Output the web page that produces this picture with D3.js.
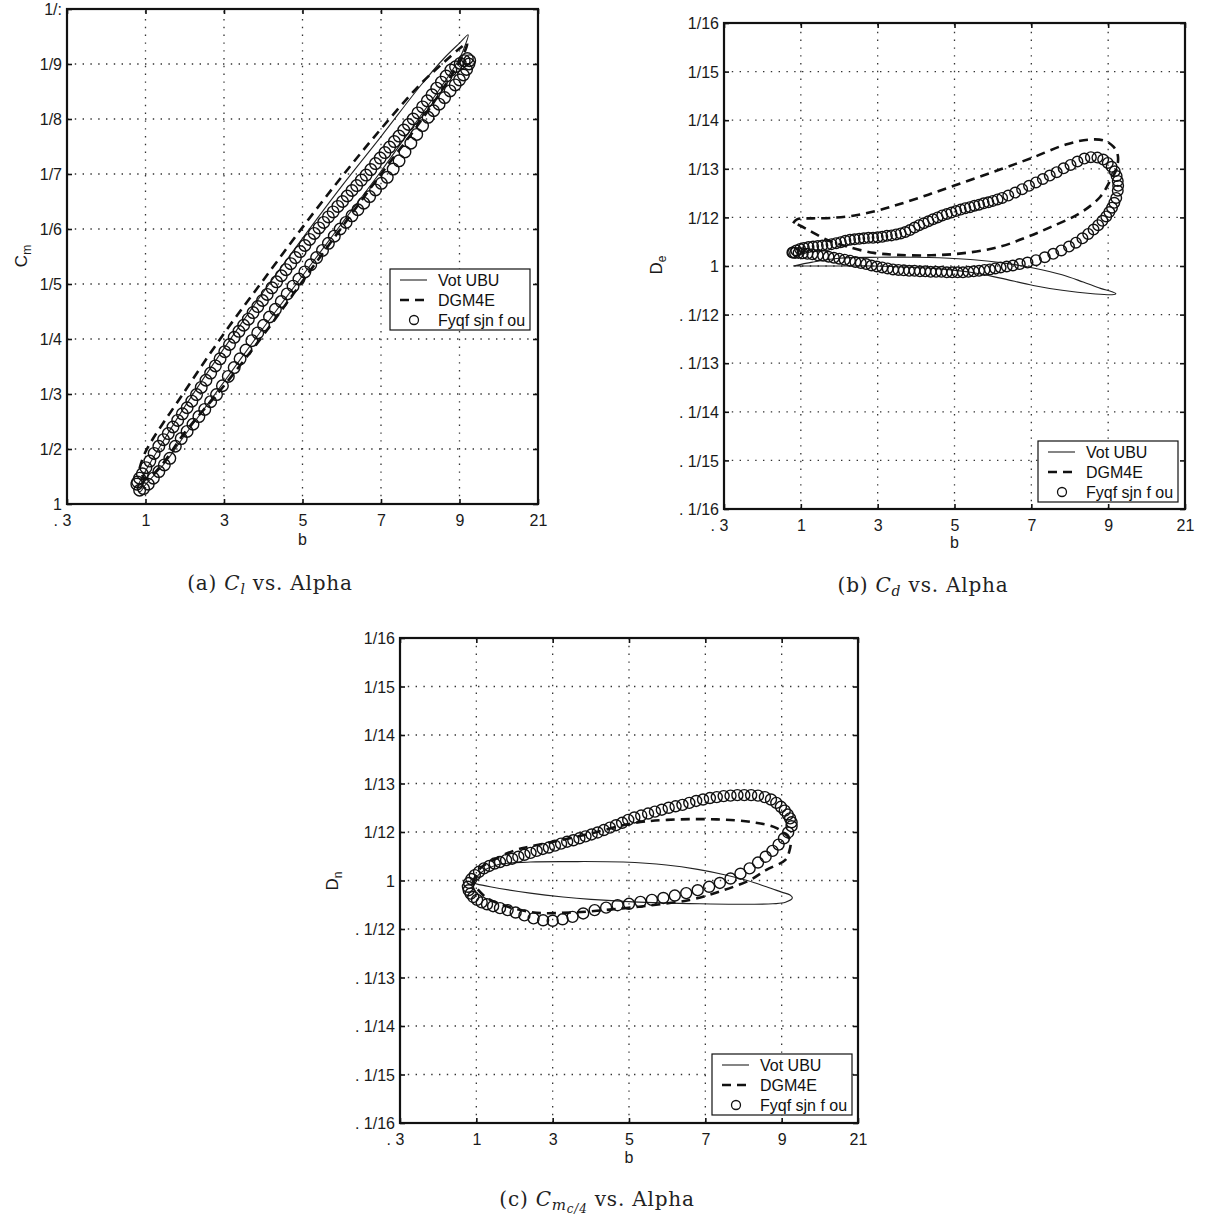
<!DOCTYPE html>
<html><head><meta charset="utf-8">
<script src="https://cdn.jsdelivr.net/npm/d3@7"></script>
<style>
body{margin:0;background:#fff;}
svg{display:block;}
.tick text{font-family:"Liberation Sans",Arial,sans-serif;font-size:16px;fill:#1a1a1a;}
</style></head>
<body>
<svg id="chart" width="1205" height="1216"></svg>
<script>
// ---------- tick values and labels ----------
const xTickVals = [-2, 0, 2, 4, 6, 8, 10];
const xTickLabels = [". 3", "1", "3", "5", "7", "9", "21"];
const clTickVals = [0, 0.1, 0.2, 0.3, 0.4, 0.5, 0.6, 0.7, 0.8, 0.9];
const clTickLabels = ["1", "1/2", "1/3", "1/4", "1/5", "1/6", "1/7", "1/8", "1/9", "1/:"];
const smallTickVals = [-0.05, -0.04, -0.03, -0.02, -0.01, 0, 0.01, 0.02, 0.03, 0.04, 0.05];
const smallTickLabels = [". 1/16", ". 1/15", ". 1/14", ". 1/13", ". 1/12", "1", "1/12", "1/13", "1/14", "1/15", "1/16"];
const legendLabels = ["Vot UBU", "DGM4E", "Fyqf sjn f ou"];

// ---------- (a) Cl vs alpha ----------
const clSolid = [[-0.22,0.03],[0,0.06],[0.5,0.12],[1,0.177],[2,0.283],[3,0.385],[4,0.483],[5,0.578],[6,0.668],[7,0.76],[7.6,0.81],[8.0,0.838],[8.22,0.853],
  [8.15,0.835],[8,0.81],[7.5,0.755],[7,0.705],[6,0.605],[5,0.51],[4,0.415],[3,0.32],[2,0.222],[1,0.125],[0.5,0.075],[0,0.035],[-0.15,0.022],[-0.22,0.03]];
const clDashed = [[-0.15,0.065],[0,0.095],[1,0.205],[2,0.31],[3,0.407],[4,0.503],[5,0.595],[6,0.682],[7,0.763],[7.6,0.803],[8.0,0.828],[8.19,0.838],
  [8.12,0.82],[7.8,0.78],[7,0.695],[6,0.6],[5,0.503],[4,0.405],[3,0.307],[2,0.215],[1,0.13],[0.4,0.07],[0,0.045],[-0.15,0.065]];
const clExpUpper = [[8.20,0.810],[8.12,0.806],[8.02,0.801],[7.90,0.795],[7.78,0.789],[7.66,0.778],[7.54,0.767],[7.42,0.756],[7.30,0.744],[7.18,0.733],
  [7.06,0.722],[6.94,0.711],[6.82,0.700],[6.70,0.690],[6.58,0.680],[6.46,0.669],[6.34,0.659],[6.22,0.649],[6.10,0.639],[5.98,0.629],
  [5.86,0.619],[5.74,0.608],[5.62,0.598],[5.50,0.589],[5.38,0.579],[5.26,0.570],[5.14,0.560],[5.02,0.550],[4.90,0.541],[4.78,0.531],
  [4.66,0.522],[4.54,0.512],[4.42,0.502],[4.30,0.492],[4.18,0.481],[4.06,0.470],[3.94,0.459],[3.82,0.448],[3.70,0.437],[3.58,0.426],
  [3.46,0.415],[3.34,0.404],[3.22,0.393],[3.10,0.381],[2.98,0.370],[2.86,0.359],[2.74,0.348],[2.62,0.336],[2.50,0.325],[2.38,0.314],
  [2.26,0.303],[2.14,0.290],[2.02,0.277],[1.90,0.264],[1.78,0.251],[1.66,0.238],[1.54,0.225],[1.42,0.212],[1.30,0.199],[1.18,0.187],
  [1.06,0.175],[0.94,0.164],[0.82,0.152],[0.70,0.140],[0.58,0.128],[0.46,0.117],[0.34,0.105],[0.22,0.092],[0.11,0.078],[0.01,0.066],
  [-0.08,0.055],[-0.15,0.047],[-0.20,0.040],[-0.22,0.036]];
const clExpLower = [[-0.15,0.025],[-0.05,0.028],[0.07,0.036],[0.20,0.047],[0.34,0.059],[0.48,0.071],[0.62,0.083],[0.76,0.105],[0.91,0.119],[1.06,0.132],
  [1.21,0.145],[1.36,0.159],[1.51,0.172],[1.66,0.186],[1.81,0.199],[1.96,0.215],[2.11,0.232],[2.26,0.248],[2.41,0.264],[2.56,0.280],
  [2.71,0.297],[2.86,0.311],[3.01,0.325],[3.16,0.340],[3.31,0.354],[3.46,0.368],[3.61,0.382],[3.76,0.396],[3.91,0.409],[4.06,0.422],
  [4.21,0.435],[4.36,0.448],[4.51,0.461],[4.66,0.474],[4.81,0.487],[4.96,0.500],[5.11,0.512],[5.26,0.524],[5.41,0.535],[5.56,0.547],
  [5.71,0.559],[5.86,0.571],[6.01,0.583],[6.16,0.594],[6.31,0.609],[6.46,0.624],[6.61,0.640],[6.76,0.656],[6.91,0.672],[7.06,0.688],
  [7.20,0.703],[7.34,0.715],[7.48,0.727],[7.62,0.739],[7.76,0.751],[7.89,0.762],[8.00,0.771],[8.10,0.780],[8.18,0.790],[8.24,0.800],
  [8.26,0.806]];

// ---------- (b) Cd vs alpha ----------
const cdSolid = [[-0.2,0.0],[0.3,0.0008],[1.0,0.0016],[2.0,0.0018],[3.0,0.0018],[3.6,0.0017],[4.5,0.0013],[5.3,0.0006],[6.05,-0.0004],[6.8,-0.0018],
  [7.35,-0.0033],[7.8,-0.0046],[8.1,-0.0053],[8.2,-0.0057],[8.1,-0.0059],[7.6,-0.0057],[6.8,-0.0050],[6.05,-0.0040],[5.2,-0.0025],[4.5,-0.0014],
  [3.6,-0.0006],[2.6,-0.0002],[1.88,0.0],[1.0,0.0],[0.2,0.0],[-0.2,0.0]];
const cdDashed = [[-0.2,0.0088],[-0.1,0.0096],[0.3,0.0098],[0.8,0.0099],[1.4,0.0104],[2.0,0.0114],[2.6,0.0128],[3.4,0.0149],[4.3,0.0174],[5.2,0.0199],
  [6.0,0.0222],[6.9,0.0250],[7.5,0.0260],[7.9,0.0258],[8.13,0.0246],[8.25,0.0228],[8.22,0.0200],[8.05,0.0175],[7.79,0.0142],[7.27,0.0109],
  [6.5,0.0080],[5.9,0.0060],[5.2,0.0040],[4.3,0.0027],[3.4,0.0022],[2.5,0.0023],[1.9,0.0027],[1.2,0.0040],[0.7,0.0053],[0.2,0.0074],[-0.1,0.0086],[-0.2,0.0088]];
const cdExpUpper = [[-0.22,0.0028],[-0.12,0.0032],[-0.02,0.0035],[0.08,0.0037],[0.20,0.0039],[0.32,0.0040],[0.44,0.0041],[0.56,0.0042],[0.68,0.0043],[0.80,0.0045],
  [0.92,0.0047],[1.04,0.0049],[1.16,0.0052],[1.28,0.0054],[1.40,0.0055],[1.52,0.0056],[1.64,0.0057],[1.76,0.0058],[1.88,0.0058],[2.00,0.0059],
  [2.12,0.0060],[2.24,0.0062],[2.36,0.0063],[2.48,0.0065],[2.60,0.0067],[2.72,0.0070],[2.84,0.0074],[2.96,0.0079],[3.08,0.0084],[3.20,0.0088],
  [3.32,0.0092],[3.44,0.0096],[3.56,0.0100],[3.68,0.0104],[3.80,0.0107],[3.92,0.0110],[4.04,0.0113],[4.16,0.0116],[4.28,0.0119],[4.40,0.0121],
  [4.52,0.0124],[4.64,0.0126],[4.76,0.0129],[4.88,0.0131],[5.00,0.0134],[5.12,0.0137],[5.24,0.0140],[5.40,0.0145],[5.58,0.0151],[5.76,0.0158],
  [5.94,0.0165],[6.12,0.0172],[6.30,0.0179],[6.48,0.0186],[6.66,0.0193],[6.84,0.0201],[7.02,0.0208],[7.20,0.0215],[7.38,0.0221],[7.55,0.0224],
  [7.72,0.0223],[7.87,0.0219],[7.99,0.0212],[8.09,0.0204],[8.17,0.0195],[8.22,0.0185],[8.25,0.0175],[8.26,0.0165],[8.25,0.0155]];
const cdExpLower = [[8.21,0.0140],[8.16,0.0130],[8.10,0.0120],[8.03,0.0111],[7.95,0.0102],[7.85,0.0093],[7.74,0.0084],[7.62,0.0075],[7.48,0.0066],[7.33,0.0057],
  [7.16,0.0048],[6.98,0.0040],[6.78,0.0032],[6.57,0.0025],[6.35,0.0018],[6.12,0.0012],[5.90,0.0007],[5.70,0.0004],[5.52,0.0001],[5.36,-0.0001],
  [5.20,-0.0003],[5.06,-0.0005],[4.92,-0.0007],[4.78,-0.0008],[4.64,-0.0010],[4.50,-0.0011],[4.36,-0.0012],[4.22,-0.0013],[4.08,-0.0013],[3.94,-0.0013],
  [3.80,-0.0013],[3.66,-0.0012],[3.52,-0.0012],[3.38,-0.0012],[3.24,-0.0011],[3.10,-0.0011],[2.96,-0.0010],[2.82,-0.0010],[2.68,-0.0009],[2.54,-0.0008],
  [2.40,-0.0007],[2.26,-0.0005],[2.12,-0.0003],[1.98,-0.0001],[1.84,0.0001],[1.70,0.0004],[1.56,0.0006],[1.42,0.0008],[1.28,0.0011],[1.14,0.0013],
  [1.00,0.0015],[0.86,0.0017],[0.72,0.0019],[0.58,0.0021],[0.44,0.0022],[0.30,0.0024],[0.17,0.0025],[0.05,0.0026],[-0.06,0.0027],[-0.15,0.0027],
  [-0.20,0.0028]];

// ---------- (c) Cm vs alpha ----------
const cmSolid = [[-0.08,-0.0005],[0.1,0.0015],[0.54,0.0032],[1.41,0.0038],[2.5,0.0039],[3.85,0.0038],[4.98,0.0032],[5.8,0.0023],[6.56,0.0011],[7.1,0.0],
  [7.6,-0.0013],[8.0,-0.0024],[8.22,-0.0030],[8.28,-0.0036],[8.1,-0.0045],[7.77,-0.0048],[6.8,-0.0049],[5.86,-0.0048],[4.1,-0.0044],[3.0,-0.0039],
  [2.27,-0.0034],[1.41,-0.0026],[0.36,-0.0013],[0.0,-0.0007],[-0.08,-0.0005]];
const cmDashed = [[-0.1,-0.0005],[0.1,0.0025],[0.44,0.0042],[1.0,0.0062],[1.41,0.0070],[2.2,0.0083],[3.0,0.0097],[4.1,0.0118],[5.0,0.0125],[6.3,0.0126],
  [7.25,0.0120],[7.87,0.0108],[8.22,0.0084],[8.2,0.0060],[8.09,0.0042],[7.6,0.0022],[7.17,0.0001],[6.4,-0.0022],[5.59,-0.0040],[4.5,-0.0052],
  [3.5,-0.0060],[2.5,-0.0066],[1.41,-0.0065],[0.28,-0.0036],[-0.1,-0.0005]];
const cmExpUpper = [[-0.22,-0.0013],[-0.19,-0.0005],[-0.13,0.0003],[-0.04,0.0011],[0.07,0.0018],[0.20,0.0025],[0.34,0.0030],[0.48,0.0035],[0.62,0.0038],[0.78,0.0042],
  [0.94,0.0045],[1.10,0.0049],[1.26,0.0053],[1.42,0.0057],[1.58,0.0061],[1.74,0.0065],[1.90,0.0068],[2.06,0.0072],[2.22,0.0076],[2.38,0.0080],
  [2.54,0.0083],[2.70,0.0087],[2.86,0.0091],[3.02,0.0095],[3.18,0.0099],[3.34,0.0104],[3.50,0.0109],[3.66,0.0114],[3.82,0.0119],[3.98,0.0125],
  [4.14,0.0130],[4.32,0.0134],[4.50,0.0138],[4.68,0.0142],[4.86,0.0146],[5.04,0.0150],[5.22,0.0153],[5.40,0.0156],[5.58,0.0160],[5.76,0.0164],
  [5.94,0.0167],[6.12,0.0170],[6.30,0.0172],[6.48,0.0174],[6.66,0.0175],[6.84,0.0176],[7.02,0.0176],[7.20,0.0176],[7.38,0.0175],[7.56,0.0172],
  [7.72,0.0167],[7.86,0.0160],[7.98,0.0152],[8.08,0.0144],[8.16,0.0136],[8.22,0.0128],[8.26,0.0120],[8.26,0.0112]];
const cmExpLower = [[8.17,0.0099],[8.06,0.0087],[7.92,0.0074],[7.76,0.0061],[7.58,0.0049],[7.38,0.0037],[7.16,0.0025],[6.92,0.0014],[6.66,0.0004],[6.38,-0.0005],
  [6.10,-0.0013],[5.80,-0.0020],[5.50,-0.0026],[5.20,-0.0031],[4.90,-0.0036],[4.60,-0.0040],[4.30,-0.0044],[4.00,-0.0048],[3.70,-0.0051],[3.40,-0.0056],
  [3.10,-0.0061],[2.80,-0.0068],[2.52,-0.0075],[2.26,-0.0080],[2.00,-0.0083],[1.75,-0.0082],[1.50,-0.0078],[1.26,-0.0072],[1.03,-0.0066],[0.82,-0.0061],
  [0.62,-0.0057],[0.44,-0.0053],[0.28,-0.0049],[0.14,-0.0045],[0.02,-0.0040],[-0.08,-0.0034],[-0.15,-0.0027],[-0.20,-0.0020]];

// ---------- drawing ----------
const svg = d3.select("#chart");
const SANS = '"Liberation Sans", Arial, sans-serif';
const SERIF = '"DejaVu Serif", "Liberation Serif", serif';

function drawPanel(p) {
  const x = d3.scaleLinear().domain([-2, 10]).range([p.left, p.right]);
  const y = d3.scaleLinear().domain(p.yDomain).range([p.bottom, p.top]);
  const g = svg.append("g");
  const W = p.right - p.left, H = p.bottom - p.top;

  // dotted grid
  const grid = g.append("g").attr("stroke", "#333").attr("stroke-width", 1.3)
      .attr("stroke-dasharray", "1.4,6.4").attr("fill", "none");
  grid.selectAll(".gx").data(xTickVals.slice(1, -1)).join("line")
      .attr("x1", d => x(d)).attr("x2", d => x(d)).attr("y1", p.bottom).attr("y2", p.top);
  grid.selectAll(".gy").data(p.yTicks.slice(1, -1)).join("line")
      .attr("y1", d => y(d)).attr("y2", d => y(d)).attr("x1", p.left).attr("x2", p.right);

  // axes with inward ticks
  const fmtX = (d, i) => xTickLabels[i];
  const fmtY = (d, i) => p.yLabels[i];
  const ax = g.append("g").attr("transform", `translate(0,${p.bottom})`)
      .call(d3.axisBottom(x).tickValues(xTickVals).tickFormat(fmtX).tickSizeInner(-5).tickSizeOuter(0).tickPadding(11));
  const ay = g.append("g").attr("transform", `translate(${p.left},0)`)
      .call(d3.axisLeft(y).tickValues(p.yTicks).tickFormat(fmtY).tickSizeInner(-5).tickSizeOuter(0).tickPadding(5));
  const at = g.append("g").attr("transform", `translate(0,${p.top})`)
      .call(d3.axisTop(x).tickValues(xTickVals).tickFormat("").tickSizeInner(-5).tickSizeOuter(0));
  const ar = g.append("g").attr("transform", `translate(${p.right},0)`)
      .call(d3.axisRight(y).tickValues(p.yTicks).tickFormat("").tickSizeInner(-5).tickSizeOuter(0));
  [ax, ay, at, ar].forEach(a => {
    a.select(".domain").remove();
    a.selectAll(".tick line").attr("stroke", "#111").attr("stroke-width", 1.6);
  });
  ay.selectAll(".tick text").attr("dy", "0.36em");
  ax.selectAll(".tick text").filter((d, i) => i === 0).attr("dx", -5);

  // box
  g.append("rect").attr("x", p.left).attr("y", p.top).attr("width", W).attr("height", H)
      .attr("fill", "none").attr("stroke", "#111").attr("stroke-width", 2.2);

  // data
  const line = d3.line().x(d => x(d[0])).y(d => y(d[1])).curve(d3.curveCatmullRom.alpha(0.5));
  g.append("path").datum(p.solid).attr("d", line).attr("fill", "none")
      .attr("stroke", "#222").attr("stroke-width", 1.1);
  g.append("path").datum(p.dashed).attr("d", line).attr("fill", "none")
      .attr("stroke", "#111").attr("stroke-width", 2.6).attr("stroke-dasharray", "9,6");
  const exp = p.expUpper.concat(p.expLower);
  g.append("g").selectAll("circle").data(exp).join("circle")
      .attr("cx", d => x(d[0])).attr("cy", d => y(d[1])).attr("r", p.r)
      .attr("fill", "none").attr("stroke", "#111").attr("stroke-width", 1.4);

  // axis titles
  g.append("text").attr("x", x(4)).attr("y", p.xlabY).attr("text-anchor", "middle")
      .attr("font-family", SANS).attr("font-size", 16).attr("fill", "#1a1a1a").text("b");
  const yl = g.append("text").attr("transform", `translate(${p.ylabX},${p.ylabY}) rotate(-90)`)
      .attr("text-anchor", "middle").attr("font-family", SANS).attr("font-size", 17).attr("fill", "#1a1a1a");
  yl.append("tspan").text(p.ylabMain);
  yl.append("tspan").attr("font-size", 12).attr("dy", 4).text(p.ylabSub);

  // legend
  const L = p.legend;
  const lg = g.append("g").attr("transform", `translate(${L[0]},${L[1]})`);
  lg.append("rect").attr("width", 140).attr("height", 61).attr("fill", "#fff")
      .attr("stroke", "#111").attr("stroke-width", 1.2);
  const rows = [11, 31, 51];
  lg.append("line").attr("x1", 10).attr("x2", 37).attr("y1", rows[0]).attr("y2", rows[0])
      .attr("stroke", "#222").attr("stroke-width", 1.1);
  lg.append("line").attr("x1", 10).attr("x2", 37).attr("y1", rows[1]).attr("y2", rows[1])
      .attr("stroke", "#111").attr("stroke-width", 2.6).attr("stroke-dasharray", "9,6");
  lg.append("circle").attr("cx", 24).attr("cy", rows[2]).attr("r", 4.5)
      .attr("fill", "none").attr("stroke", "#111").attr("stroke-width", 1.3);
  lg.selectAll("text.lt").data(legendLabels).join("text").attr("class", "lt")
      .attr("x", 48).attr("y", (d, i) => rows[i]).attr("dy", "0.36em")
      .attr("font-family", SANS).attr("font-size", 16).attr("fill", "#111").text(d => d);

  // caption
  const cap = svg.append("text").attr("x", p.capX).attr("y", p.capY).attr("text-anchor", "middle")
      .attr("font-family", SERIF).attr("font-size", 20).attr("letter-spacing", 0.8).attr("fill", "#222");
  cap.append("tspan").text(p.capLetter + " ");
  cap.append("tspan").attr("font-style", "italic").text("C");
  let shift = 0;
  p.capSubs.forEach(s => {
    cap.append("tspan").attr("font-style", "italic").attr("font-size", s.size).attr("dy", s.dy).text(s.t);
    shift += s.dy;
  });
  cap.append("tspan").attr("dy", -shift).text(" vs. Alpha");
}

drawPanel({
  left: 67, right: 538, top: 9, bottom: 504, yDomain: [0, 0.9],
  yTicks: clTickVals, yLabels: clTickLabels,
  solid: clSolid, dashed: clDashed, expUpper: clExpUpper, expLower: clExpLower, r: 5.8,
  xlabY: 545, ylabX: 27, ylabY: 256, ylabMain: "C", ylabSub: "m",
  legend: [390, 269],
  capX: 270, capY: 590, capLetter: "(a)",
  capSubs: [{t: "l", size: 14, dy: 4}]
});
drawPanel({
  left: 724, right: 1185, top: 23, bottom: 509, yDomain: [-0.05, 0.05],
  yTicks: smallTickVals, yLabels: smallTickLabels,
  solid: cdSolid, dashed: cdDashed, expUpper: cdExpUpper, expLower: cdExpLower, r: 5.3,
  xlabY: 548, ylabX: 662, ylabY: 265, ylabMain: "D", ylabSub: "e",
  legend: [1038, 441],
  capX: 923, capY: 592, capLetter: "(b)",
  capSubs: [{t: "d", size: 14, dy: 4}]
});
drawPanel({
  left: 400, right: 858, top: 638, bottom: 1123, yDomain: [-0.05, 0.05],
  yTicks: smallTickVals, yLabels: smallTickLabels,
  solid: cmSolid, dashed: cmDashed, expUpper: cmExpUpper, expLower: cmExpLower, r: 5.5,
  xlabY: 1163, ylabX: 338, ylabY: 881, ylabMain: "D", ylabSub: "n",
  legend: [712, 1054],
  capX: 597, capY: 1206, capLetter: "(c)",
  capSubs: [{t: "m", size: 15, dy: 4}, {t: "c/4", size: 12, dy: 3}]
});
</script>
</body></html>
